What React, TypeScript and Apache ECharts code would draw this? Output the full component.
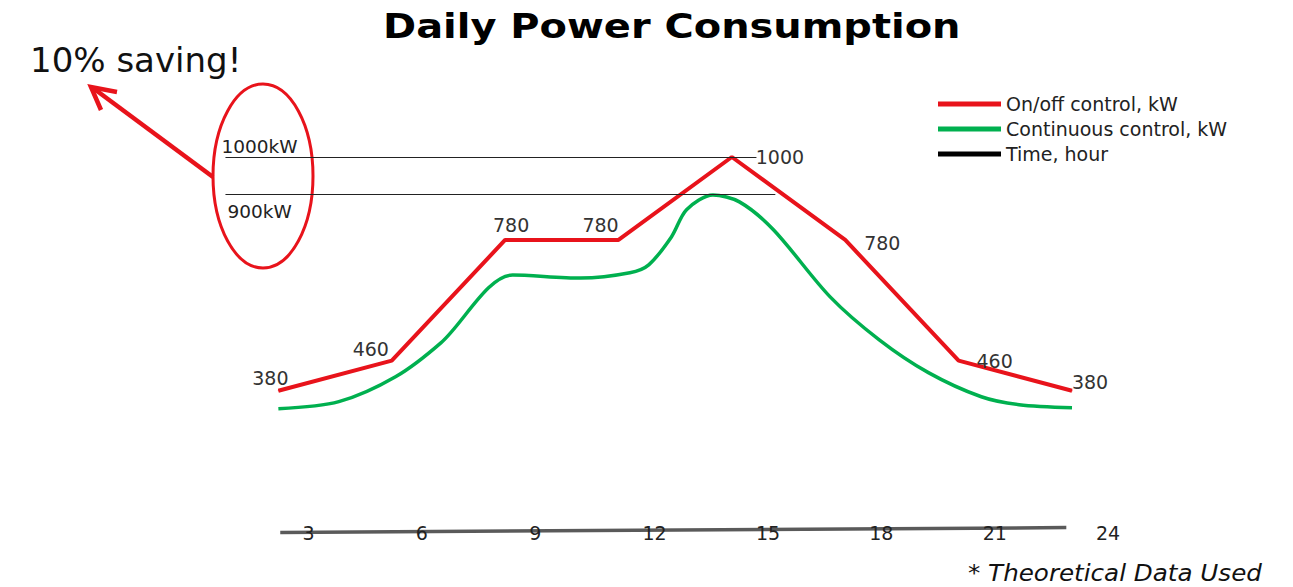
import React, { useEffect, useRef } from 'react';
import * as echarts from 'echarts';

// ---- data ----
const hours = [3, 6, 9, 12, 15, 18, 21, 24];
const onOffKw = [380, 460, 780, 780, 1000, 780, 460, 380];

const continuousHours = [3, 4.6, 6.1, 7.3, 9.2, 11, 12.3, 12.8, 13.4, 13.8, 14.5, 15.2, 16.1, 17.6, 18.9, 20.2, 21.6, 22.6, 24];
const continuousKw = [332, 351, 417, 507, 687, 679, 693, 714, 788, 860, 899, 881, 807, 629, 515, 428, 364, 343, 335];

const timeLineHours = [3.05, 23.85];
const timeLineKw = [4, 17];

const tickHours = [3, 6, 9, 12, 15, 18, 21, 24];
const tickLabels = ['3', '6', '9', '12', '15', '18', '21', '24'];

const thresholdKw = [1000, 900];
const thresholdLabels = ['1000kW', '900kW'];
const thresholdFromHour = [1.6, 1.6];
const thresholdToHour = [15.65, 16.15];

const seriesNames = ['On/off control, kW', 'Continuous control, kW', 'Time, hour'];
const titleText = 'Daily Power Consumption';
const calloutText = '10% saving!';
const footnoteText = '* Theoretical Data Used';

// ---- styles ----
const FONT = 'DejaVu Sans, Verdana, sans-serif';
const RED = '#e8131b';
const GREEN = '#00b04f';
const labelOffsets = [[-8, -13], [-21, -12], [6, -15], [-18, -15], [48, 0], [37, 3], [36, 0], [18, -9]];

export default function App() {
  const ref = useRef<HTMLDivElement>(null);
  useEffect(() => {
    document.body.style.margin = '0';
    const chart = echarts.init(ref.current!, null, { renderer: 'svg' });
    const option: any = {
      animation: false,
      backgroundColor: '#ffffff',
      legend: {
        orient: 'vertical',
        left: 933,
        top: 89,
        itemWidth: 63,
        itemHeight: 5,
        itemGap: 5,
        textStyle: { fontFamily: FONT, fontSize: 19, color: '#222', lineHeight: 20 },
        data: [
          { name: seriesNames[0], icon: 'rect', itemStyle: { color: RED } },
          { name: seriesNames[1], icon: 'rect', itemStyle: { color: GREEN } },
          { name: seriesNames[2], icon: 'rect', itemStyle: { color: '#000' } },
        ],
      },
      grid: { left: 165, right: 221, top: 157, bottom: 53 },
      xAxis: {
        type: 'value',
        min: 0,
        max: 24,
        interval: 3,
        z: 5,
        axisLine: { show: false },
        axisTick: { show: false },
        splitLine: { show: false },
        axisLabel: {
          show: true,
          margin: -11,
          align: 'left',
          padding: [0, 0, 0, 24],
          fontFamily: FONT,
          fontSize: 19,
          color: '#222',
          formatter: (v: number) => {
            const i = tickHours.indexOf(v);
            return i >= 0 ? tickLabels[i] : '';
          },
        },
      },
      yAxis: { type: 'value', min: 0, max: 1000, show: false },
      series: [
        {
          name: seriesNames[2],
          type: 'line',
          symbol: 'none',
          z: 1,
          itemStyle: { color: '#000' },
          lineStyle: { color: '#5a5a5a', width: 3.5 },
          data: timeLineHours.map((h, i) => [h, timeLineKw[i]]),
        },
        {
          name: seriesNames[1],
          type: 'line',
          smooth: 0.3,
          symbol: 'none',
          itemStyle: { color: GREEN },
          lineStyle: { color: GREEN, width: 3.5 },
          data: continuousHours.map((h, i) => [h, continuousKw[i]]),
        },
        {
          name: seriesNames[0],
          type: 'line',
          symbol: 'circle',
          symbolSize: 1,
          itemStyle: { color: RED },
          lineStyle: { color: RED, width: 4 },
          label: { show: true, position: 'inside', fontFamily: FONT, fontSize: 19, color: '#333' },
          data: hours.map((h, i) => ({ value: [h, onOffKw[i]], label: { offset: labelOffsets[i] } })),
          markLine: {
            silent: true,
            symbol: 'none',
            lineStyle: { color: '#222', width: 1, type: 'solid' },
            data: thresholdKw.map((kw, i) => [
              {
                coord: [thresholdFromHour[i], kw],
                label: {
                  show: true,
                  formatter: thresholdLabels[i],
                  position: i === 0 ? 'insideStartTop' : 'insideStartBottom',
                  distance: i === 0 ? [-4, 1] : [2, 7],
                  fontFamily: FONT,
                  fontSize: 18.5,
                  color: '#222',
                },
              },
              { coord: [thresholdToHour[i], kw] },
            ]),
          },
        },
      ],
      graphic: [
        {
          type: 'text',
          x: 383,
          y: 27,
          scaleX: 1.21,
          style: { text: titleText, fontFamily: FONT, fontWeight: 'bold', fontSize: 33, fill: '#000', align: 'left', verticalAlign: 'middle' },
        },
        {
          type: 'ellipse',
          shape: { cx: 263, cy: 176, rx: 50, ry: 92 },
          style: { fill: 'none', stroke: RED, lineWidth: 3 },
        },
        {
          type: 'line',
          shape: { x1: 213, y1: 177, x2: 93, y2: 88 },
          style: { stroke: RED, lineWidth: 4.5 },
        },
        {
          type: 'polyline',
          shape: { points: [[117, 92], [91, 87], [101, 110]] },
          style: { stroke: RED, lineWidth: 4.5, fill: 'none', lineJoin: 'miter' },
        },
        {
          type: 'text',
          x: 30,
          y: 60,
          style: { text: calloutText, fontFamily: FONT, fontSize: 34, fill: '#111', align: 'left', verticalAlign: 'middle' },
        },
        {
          type: 'text',
          x: 968,
          y: 573,
          scaleX: 1.07,
          style: { text: footnoteText, fontFamily: FONT, fontStyle: 'italic', fontSize: 23, fill: '#111', align: 'left', verticalAlign: 'middle' },
        },
      ],
    };
    chart.setOption(option);
    return () => chart.dispose();
  }, []);
  return <div ref={ref} style={{ width: 1293, height: 587 }} />;
}
